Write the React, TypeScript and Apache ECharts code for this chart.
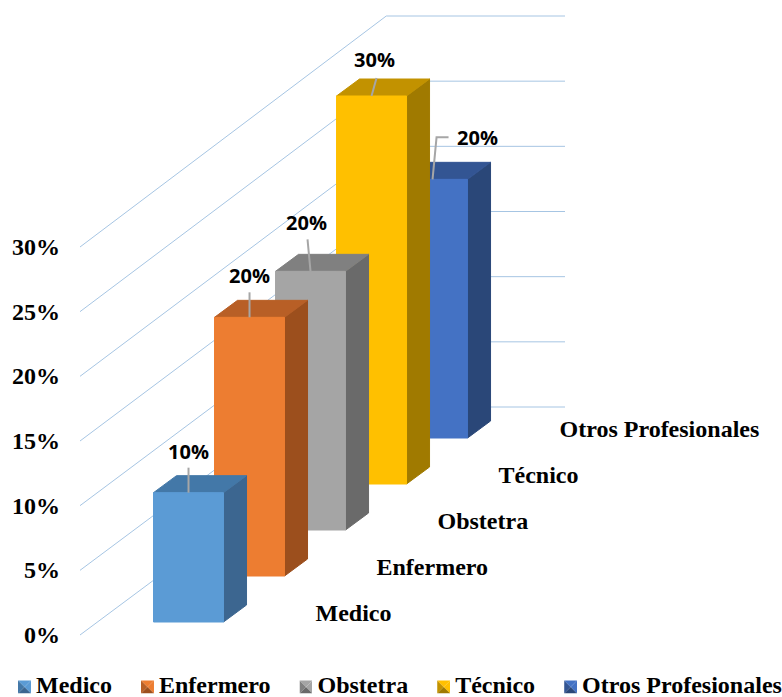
import React, { useEffect, useRef } from "react";
import * as echarts from "echarts";

// Chart content
const categories = ["Medico", "Enfermero", "Obstetra", "Técnico", "Otros Profesionales"];
const percentages = [10, 20, 20, 30, 20];
const axisTicks = [0, 5, 10, 15, 20, 25, 30];

// Face colours per profession
const frontColors = ["#5B9BD5", "#ED7D31", "#A5A5A5", "#FFC000", "#4472C4"];
const topColors = ["#4378A8", "#B85F26", "#808080", "#C29200", "#335593"];
const sideColors = ["#3C6690", "#9C4F1D", "#6A6A6A", "#A07A00", "#2A4778"];

// Value-label centres and their leader lines, relative to the top centre of each bar's front face
const labelOffsets = [
  [0, -41],
  [0, -42],
  [-4, -49],
  [3, -37],
  [45, -42],
];
const leaderPaths = [
  [[0, -25], [0, 0]],
  [[0, -25], [0, 0]],
  [[-3, -32], [0, 0]],
  [[5, -18], [0, 0]],
  [[16, -42], [4, -42], [0, 0]],
];

const SERIF = "'Liberation Serif', 'Times New Roman', serif";
const SANS = "'Open Sans', Lato, sans-serif";
const TEXT_SIZE = 24;

// Oblique projection of the bars and the back wall
const SLOT_RISE = 46;
const WALL_DEPTH = 5.02;
const WALL_RISE_FLOOR = 228;
const WALL_RISE_TOP = 231;
const WALL_END = 7.95;
const AXIS_MAX = 30;
const BAR_START = 1.205;
const BAR_LIFT = 13;
const BAR_UNITS = 70 / 61;
const SIDE_DX = 23;
const SIDE_DY = -17;

// Legend marker: a bevelled square sitting at the bottom of a slightly taller icon box,
// which lowers it to the text's optical centre
const pyramidIcon = (i: number) => {
  const svg =
    `<svg xmlns='http://www.w3.org/2000/svg' width='13' height='17' viewBox='0 -4 13 17'>` +
    `<polygon points='0,0 13,0 6.5,6.5' fill='${frontColors[i]}'/>` +
    `<polygon points='13,0 13,13 6.5,6.5' fill='${frontColors[i]}'/>` +
    `<polygon points='0,0 0,13 6.5,6.5' fill='${topColors[i]}'/>` +
    `<polygon points='0,13 13,13 6.5,6.5' fill='${sideColors[i]}'/>` +
    `</svg>`;
  return "image://data:image/svg+xml," + encodeURIComponent(svg);
};

const renderGridLine = (_: any, api: any) => {
  const v = api.value(0);
  const start = api.coord([0, v]);
  const back = api.coord([WALL_DEPTH, v]);
  const end = api.coord([WALL_END, v]);
  const y = back[1] - (WALL_RISE_FLOOR + ((WALL_RISE_TOP - WALL_RISE_FLOOR) * v) / AXIS_MAX);
  return {
    type: "polyline",
    shape: { points: [start, [back[0], y], [end[0], y]] },
    style: { stroke: "#A6C5E3", fill: "none", lineWidth: 1 },
    silent: true,
  };
};

const renderBar = (_: any, api: any) => {
  const i = api.value(0);
  const value = api.value(1);
  const rise = BAR_LIFT + SLOT_RISE * i;
  const bottomLeft = api.coord([i + BAR_START, 0]);
  const topRight = api.coord([i + BAR_START + BAR_UNITS, value]);
  const x0 = bottomLeft[0];
  const x1 = topRight[0];
  const yb = bottomLeft[1] - rise;
  const yt = topRight[1] - rise;
  const cx = (x0 + x1) / 2;
  const face = (points: number[][], fill: string, stroke: string) => ({
    type: "polygon",
    shape: { points },
    style: { fill, stroke, lineWidth: 1, lineJoin: "round" },
  });
  const [ox, oy] = labelOffsets[i];
  return {
    type: "group",
    children: [
      face(
        [[x1, yt], [x1 + SIDE_DX, yt + SIDE_DY], [x1 + SIDE_DX, yb + SIDE_DY], [x1, yb]],
        sideColors[i],
        sideColors[i],
      ),
      face(
        [[x0, yt], [x0 + SIDE_DX, yt + SIDE_DY], [x1 + SIDE_DX, yt + SIDE_DY], [x1, yt]],
        topColors[i],
        topColors[i],
      ),
      face([[x0, yt], [x1, yt], [x1, yb], [x0, yb]], frontColors[i], frontColors[i]),
      {
        type: "polyline",
        shape: { points: leaderPaths[i].map(([dx, dy]) => [cx + dx, yt + dy]) },
        style: { stroke: "#A6A6A6", fill: "none", lineWidth: 2 },
      },
      {
        type: "text",
        style: {
          x: cx + ox,
          y: yt + oy,
          text: `${percentages[i]}%`,
          fill: "#000",
          font: `bold 20px ${SANS}`,
          align: "center",
          verticalAlign: "middle",
        },
      },
      {
        type: "text",
        style: {
          x: x0 + 162,
          y: yb - 9,
          text: categories[i],
          fill: "#000",
          font: `bold ${TEXT_SIZE}px ${SERIF}`,
          align: "left",
          verticalAlign: "middle",
        },
      },
    ],
  };
};

// Bars are painted back to front so that the nearer ones overlap the farther ones
const barOrder = categories.map((_, i) => categories.length - 1 - i);

export default function App() {
  const ref = useRef<HTMLDivElement>(null);

  useEffect(() => {
    if (!ref.current) return;
    const chart = echarts.init(ref.current, undefined, { renderer: "svg" });
    chart.setOption({
      animation: false,
      backgroundColor: "#fff",
      grid: { left: 80, top: 247, width: 485, height: 388, containLabel: false },
      xAxis: { type: "value", min: 0, max: WALL_END, show: false },
      yAxis: {
        type: "value",
        min: 0,
        max: AXIS_MAX,
        interval: 5,
        axisLine: { show: false },
        axisTick: { show: false },
        splitLine: { show: false },
        axisLabel: {
          margin: 20,
          color: "#000",
          fontFamily: SERIF,
          fontWeight: "bold",
          fontSize: TEXT_SIZE,
          formatter: (v: number) => `${v}%`,
        },
      },
      legend: {
        left: 18,
        top: 673,
        padding: 0,
        itemGap: 29,
        itemWidth: 13,
        itemHeight: 17,
        itemStyle: { borderWidth: 0 },
        textStyle: {
          color: "#000",
          fontFamily: SERIF,
          fontWeight: "bold",
          fontSize: TEXT_SIZE,
          lineHeight: 20,
          padding: 0,
        },
        data: categories.map((name, i) => ({ name, icon: pyramidIcon(i) })),
        selectedMode: false,
      },
      series: [
        {
          id: "wall",
          type: "custom",
          coordinateSystem: "cartesian2d",
          silent: true,
          encode: { y: 0 },
          data: axisTicks.map((v) => [v]),
          renderItem: renderGridLine,
          z: 1,
        },
        ...barOrder.map((i) => ({
          id: categories[i],
          name: categories[i],
          type: "custom",
          coordinateSystem: "cartesian2d",
          silent: true,
          itemStyle: { color: frontColors[i] },
          encode: { x: 0, y: 1 },
          data: [[i, percentages[i]]],
          renderItem: renderBar,
          z: 2,
        })),
      ],
    });
    return () => chart.dispose();
  }, []);

  return (
    <div
      ref={ref}
      style={{ position: "absolute", left: 0, top: 0, width: 782, height: 697 }}
    />
  );
}
